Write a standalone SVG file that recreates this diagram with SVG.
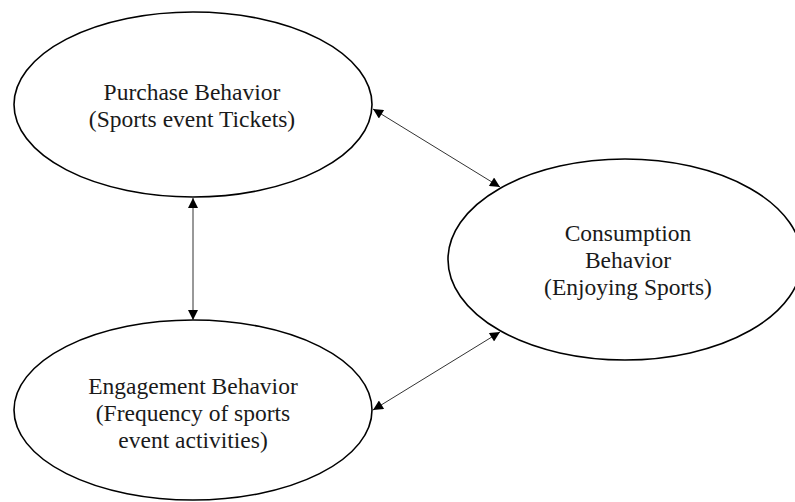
<svg xmlns="http://www.w3.org/2000/svg" width="795" height="502" viewBox="0 0 795 502">
<style>
.node ellipse{fill:#fff;stroke:#000;stroke-width:1.6}
.node text{font-family:"Liberation Serif","Times New Roman",serif;font-size:23.5px;fill:#1a1a1a;text-anchor:middle}
.conn line{stroke:#333;stroke-width:1;marker-start:url(#ah);marker-end:url(#ah)}
</style>
<defs>
<marker id="ah" viewBox="0 0 10 10" refX="10" refY="5" markerWidth="12" markerHeight="10" markerUnits="userSpaceOnUse" orient="auto-start-reverse">
<path d="M0,0 L10,5 L0,10 z" fill="#000"/>
</marker>
</defs>
<rect width="795" height="502" fill="#fff"/>
<g id="purchase" class="node">
<ellipse cx="193" cy="104.5" rx="179" ry="92.5"/>
<text x="192" y="100">Purchase Behavior</text>
<text x="192" y="127">(Sports event Tickets)</text>
</g>
<g id="consumption" class="node">
<ellipse cx="625" cy="259.5" rx="177" ry="100.5"/>
<text x="628" y="241">Consumption</text>
<text x="628" y="268">Behavior</text>
<text x="628" y="295">(Enjoying Sports)</text>
</g>
<g id="engagement" class="node">
<ellipse cx="193" cy="410" rx="179" ry="90"/>
<text x="193" y="394">Engagement Behavior</text>
<text x="193" y="421">(Frequency of sports</text>
<text x="193" y="448">event activities)</text>
</g>
<g id="connectors" class="conn">
<line x1="193" y1="198" x2="193" y2="320"/>
<line x1="373" y1="109" x2="500" y2="187"/>
<line x1="500" y1="332" x2="373" y2="410"/>
</g>
</svg>
